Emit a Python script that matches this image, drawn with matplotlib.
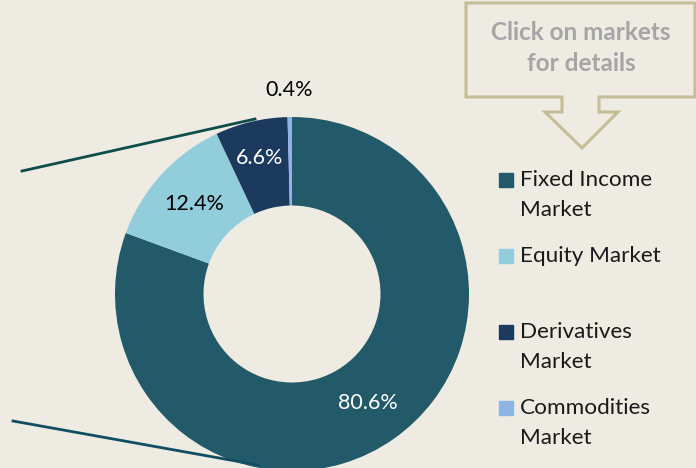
import numpy as np
import matplotlib
matplotlib.use("Agg")
import matplotlib.pyplot as plt
from matplotlib.patches import Polygon, Rectangle

# data
markets = ["Fixed Income\nMarket", "Equity Market", "Derivatives\nMarket", "Commodities\nMarket"]
shares = [80.6, 12.4, 6.6, 0.4]
colors = ["#235A69", "#92CDDC", "#1B3A5E", "#8EB4E3"]
label_colors = ["white", "black", "white", "black"]
label_dist = [0.75, 0.75, 0.79, 1.15]
callout_text = "Click on markets\nfor details"

bg = "#EEEBE3"
W, H = 696, 468
plt.rcParams["font.family"] = ["Lato", "DejaVu Sans"]

fig = plt.figure(figsize=(W / 100, H / 100), dpi=100, facecolor=bg)
ax = fig.add_axes([0, 0, 1, 1])
ax.set_facecolor(bg)

cx, cy, R = 292, H - 294, 177
wedges, _ = ax.pie(shares, colors=colors, startangle=90, counterclock=False,
                   radius=R, center=(cx, cy),
                   wedgeprops=dict(width=R * 0.5, linewidth=0))

# percentage labels along each wedge's middle angle
for w, v, c, d in zip(wedges, shares, label_colors, label_dist):
    th = np.deg2rad((w.theta1 + w.theta2) / 2)
    ax.text(cx + R * d * np.cos(th), cy + R * d * np.sin(th), f"{v:.1f}%",
            ha="center", va="center", color=c, fontsize=15.5)

# leader lines to the left
ax.plot([22, 255], [H - 171, H - 119], color="#0E4D4A", lw=2)
ax.plot([13, 258], [H - 421, H - 465], color="#124E63", lw=2)

# callout box with arrow
pts = [(466, 3), (695, 3), (695, 97), (599, 97), (599, 112), (618, 112),
       (582, 148), (545, 112), (562, 112), (562, 97), (466, 97)]
ax.add_patch(Polygon([(x, H - y) for x, y in pts], closed=True, fill=False,
                     edgecolor="#C4BD97", lw=2.2))
ax.text(581, H - 48, callout_text, ha="center", va="center", color="#A5A5A5",
        fontsize=17.5, fontweight="bold", linespacing=1.45)

# legend, square next to first line of each entry
for i, (lab, c) in enumerate(zip(markets, colors)):
    y = 180 + 76 * i
    ax.add_patch(Rectangle((499, H - y - 7), 14, 14, color=c))
    for k, line in enumerate(lab.split("\n")):
        ax.text(520, H - y - 30 * k, line, ha="left", va="center",
                fontsize=16.2, color="#1A1A1A")

ax.set_xlim(0, W)
ax.set_ylim(0, H)
ax.set_aspect("auto")
ax.axis("off")

fig.savefig("out.png", dpi=100, facecolor=bg)
